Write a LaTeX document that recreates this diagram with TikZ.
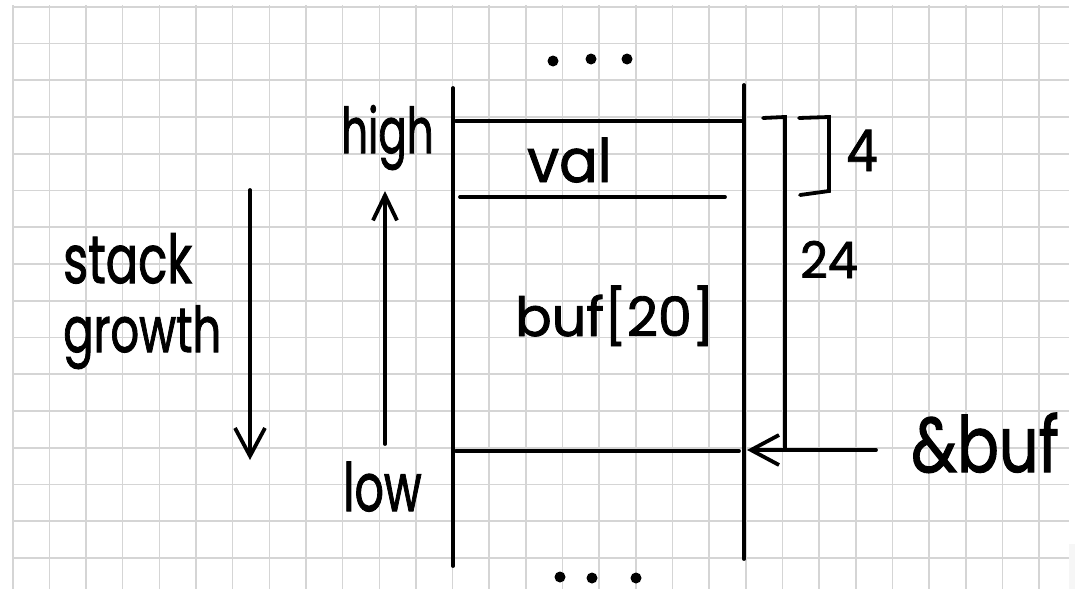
\documentclass[tikz,border=0pt]{standalone}
\usepackage{fontspec}
\setmainfont{Poppins}
\newfontfamily\handfont{Poppins}[FakeBold=1.6]
\usetikzlibrary{arrows.meta}

% 手写体标注: 字号, 纵向拉伸, 文字
\newcommand{\handtext}[3]{{\handfont\fontsize{#1}{#1}\selectfont\scalebox{1}[#2]{#3}}}

\begin{document}
\begin{tikzpicture}[x=1pt, y=-1pt, line cap=round,
    >={Straight Barb[length=28pt,width=30pt]},
    ink/.style={line width=3.8pt, black},
    gridline/.style={line width=1.6pt, gray!33, line cap=butt},
    hand/.style={anchor=base west, inner sep=0pt}]
    \useasboundingbox (0,0) rectangle (1075,589);
    % 方格纸背景
    \fill[white] (0,0) rectangle (1075,589);
    \foreach \k in {0,...,28}
        \draw[gridline] (12.7+36.66*\k,5) -- (12.7+36.66*\k,589);
    \foreach \j in {0,...,15}
        \draw[gridline] (12,6.7+36.75*\j) -- (1069,6.7+36.75*\j);
    \fill[gray!7] (1069,544) rectangle (1075,589);

    % 栈帧的左右竖线
    \coordinate (LT) at (453,88);
    \coordinate (LB) at (453,566);
    \coordinate (RT) at (744,85);
    \coordinate (RB) at (744,559);
    \draw[ink] (LT) -- (LB);
    \draw[ink] (RT) -- (RB);

    % 栈帧内的横线
    \draw[ink] (456,121) -- (744,121);
    \draw[ink] (460,197) -- (725,197);
    \draw[ink] (456,451) -- (739,451);

    % 上下省略号
    \foreach \x/\y in {553/61, 591/59, 627/59, 560/577, 592/578, 636/578}
        \fill (\x,\y) circle (5.5pt);

    % 文字标注
    \node[hand] (lblStack) at (63,283) {\handtext{48pt}{1.4}{stack}};
    \node[hand] (lblGrowth) at (63,352) {\handtext{45pt}{1.4}{growth}};
    \node[hand] (lblHigh) at (341,153) {\handtext{42pt}{1.5}{high}};
    \node[hand] (lblLow) at (343,511) {\handtext{46pt}{1.45}{low}};
    \node[hand] (lblVal) at (527,182) {\handtext{57pt}{1.05}{val}};
    \node[hand] (lblBuf) at (515,336) {\handtext{54pt}{1.0}{buf[20]}};
    \node[hand] (lblFour) at (846,171) {\handtext{50pt}{1.15}{4}};
    \node[hand] (lblSize) at (800,278) {\handtext{48pt}{1.05}{24}};
    \node[hand] (lblAddr) at (911,472) {\handtext{62pt}{1.25}{\&buf}};

    % 栈增长方向
    \coordinate (g1) at (250,190);
    \coordinate (g2) at (250,460);
    \draw[ink, ->] (g1) -- (g2);

    % 地址由低到高
    \coordinate (h1) at (385,444);
    \coordinate (h2) at (385,191);
    \draw[ink, >={Straight Barb[length=25pt,width=24pt]}, ->] (h1) -- (h2);

    % 尺寸括号 4 和 24
    \draw[ink] (799,118) -- (829,117) -- (829,191) -- (800,195);
    \draw[ink] (763,118) -- (785,117) -- (785,450);

    % &buf 指向栈帧底部
    \coordinate (ptr) at (876,450);
    \coordinate (bufaddr) at (747,450);
    \draw[ink, ->] (ptr) -- (bufaddr);
\end{tikzpicture}
\end{document}
